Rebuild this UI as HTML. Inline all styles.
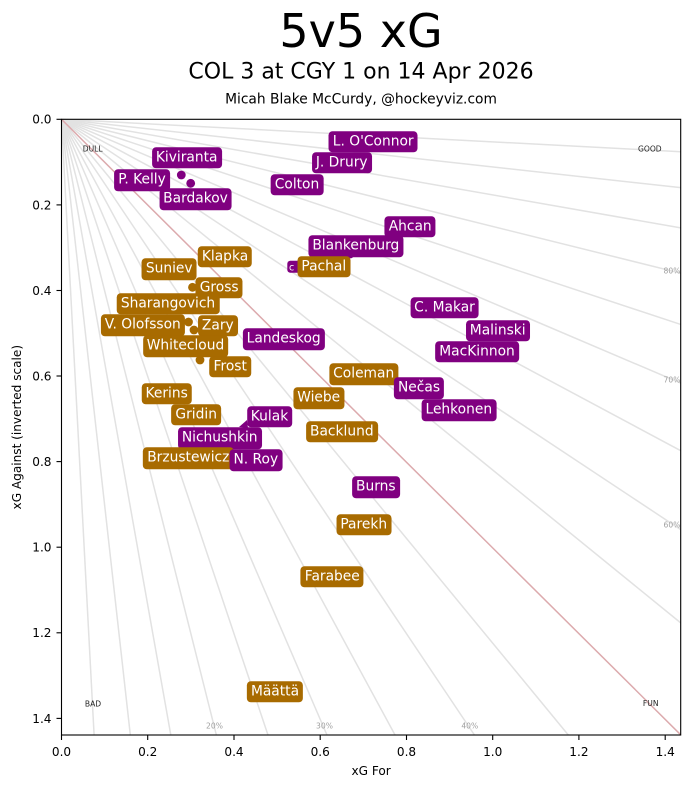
<!DOCTYPE html>
<html>
<head>
<meta charset="utf-8">
<style>
html,body{margin:0;padding:0;background:#fff;width:691px;height:788px;overflow:hidden;}
#fig{position:relative;width:691px;height:788px;overflow:hidden;background:#fff;font-family:"DejaVu Sans","Liberation Sans",sans-serif;}
svg{position:absolute;left:0;top:0;display:block;}
.lb{position:absolute;transform:translate(-50%,-50%);height:21.5px;line-height:21.5px;padding:0 4.1px;border-radius:4px;color:#fff;font-size:13.8px;white-space:nowrap;font-family:"DejaVu Sans","Liberation Sans",sans-serif;}
.P{background:#800080;}
.G{background:#a86b00;}
</style>
</head>
<body>
<div id="fig">
<svg width="691" height="788" viewBox="0 0 691 788" xmlns="http://www.w3.org/2000/svg" font-family="DejaVu Sans, Liberation Sans, sans-serif">
  <text x="361" y="47" font-size="46" text-anchor="middle" fill="#000">5v5 xG</text>
  <text x="361" y="78.3" font-size="22" text-anchor="middle" fill="#000">COL 3 at CGY 1 on 14 Apr 2026</text>
  <text x="361" y="103.3" font-size="13.8" text-anchor="middle" fill="#000">Micah Blake McCurdy, @hockeyviz.com</text>

  <g stroke="#e2e2e2" stroke-width="1.5" fill="none">
    <line x1="61.5" y1="119.3" x2="94.10" y2="735"/>
    <line x1="61.5" y1="119.3" x2="130.33" y2="735"/>
    <line x1="61.5" y1="119.3" x2="170.81" y2="735"/>
    <line x1="61.5" y1="119.3" x2="216.36" y2="735"/>
    <line x1="61.5" y1="119.3" x2="267.98" y2="735"/>
    <line x1="61.5" y1="119.3" x2="326.97" y2="735"/>
    <line x1="61.5" y1="119.3" x2="395.04" y2="735"/>
    <line x1="61.5" y1="119.3" x2="474.46" y2="735"/>
    <line x1="61.5" y1="119.3" x2="568.31" y2="735"/>
    <line x1="61.5" y1="119.3" x2="680.7" y2="622.86"/>
    <line x1="61.5" y1="119.3" x2="680.7" y2="529.61"/>
    <line x1="61.5" y1="119.3" x2="680.7" y2="450.71"/>
    <line x1="61.5" y1="119.3" x2="680.7" y2="383.07"/>
    <line x1="61.5" y1="119.3" x2="680.7" y2="324.46"/>
    <line x1="61.5" y1="119.3" x2="680.7" y2="273.17"/>
    <line x1="61.5" y1="119.3" x2="680.7" y2="227.91"/>
    <line x1="61.5" y1="119.3" x2="680.7" y2="187.68"/>
    <line x1="61.5" y1="119.3" x2="680.7" y2="151.69"/>
    <line x1="61.5" y1="119.3" x2="680.7" y2="734.8" stroke="#dcaaad"/>
  </g>

  <g font-size="7.6" fill="#222" text-anchor="middle">
    <text x="92.7" y="151.7">DULL</text>
    <text x="649.8" y="151.7">GOOD</text>
    <text x="93" y="706.7">BAD</text>
    <text x="650.7" y="706">FUN</text>
  </g>
  <g font-size="7.6" fill="#a0a0a0" text-anchor="middle">
    <text x="214.5" y="728.7">20%</text>
    <text x="324.5" y="728.7">30%</text>
    <text x="469.8" y="728.7">40%</text>
    <text x="672" y="527.7">60%</text>
    <text x="672" y="382.7">70%</text>
    <text x="672" y="273.5">80%</text>
  </g>

  <g>
    <circle cx="181.3" cy="175" r="4.4" fill="#800080"/>
    <circle cx="190.7" cy="183.3" r="4.4" fill="#800080"/>
    <circle cx="350" cy="254" r="4.4" fill="#800080"/>
    <circle cx="192.5" cy="287.3" r="4.4" fill="#a86b00"/>
    <circle cx="200" cy="360" r="4.4" fill="#a86b00"/>
    <circle cx="188.5" cy="322" r="4.4" fill="#a86b00"/>
    <circle cx="194" cy="330" r="4.4" fill="#a86b00"/>
    <polygon points="239,427 247,420 248,428" fill="#800080"/>
    <rect x="287.3" y="260.7" width="14" height="12" rx="3" fill="#800080"/>
    <text x="289" y="270.5" font-size="9.5" fill="#fff">c</text>
  </g>

  <rect x="61.5" y="119.3" width="619.2" height="615.7" fill="none" stroke="#000" stroke-width="1.1"/>

  <g stroke="#000" stroke-width="1.1">
    <line x1="61.5" y1="735" x2="61.5" y2="740"/>
    <line x1="147.7" y1="735" x2="147.7" y2="740"/>
    <line x1="234" y1="735" x2="234" y2="740"/>
    <line x1="320.2" y1="735" x2="320.2" y2="740"/>
    <line x1="406.5" y1="735" x2="406.5" y2="740"/>
    <line x1="492.7" y1="735" x2="492.7" y2="740"/>
    <line x1="578.9" y1="735" x2="578.9" y2="740"/>
    <line x1="665.2" y1="735" x2="665.2" y2="740"/>
  </g>
  <g font-size="12.1" fill="#000" text-anchor="middle">
    <text x="61.5" y="756">0.0</text>
    <text x="147.7" y="756">0.2</text>
    <text x="234" y="756">0.4</text>
    <text x="320.2" y="756">0.6</text>
    <text x="406.5" y="756">0.8</text>
    <text x="492.7" y="756">1.0</text>
    <text x="578.9" y="756">1.2</text>
    <text x="665.2" y="756">1.4</text>
  </g>
  <g stroke="#000" stroke-width="1.1">
    <line x1="56.5" y1="119.3" x2="61.5" y2="119.3"/>
    <line x1="56.5" y1="204.9" x2="61.5" y2="204.9"/>
    <line x1="56.5" y1="290.5" x2="61.5" y2="290.5"/>
    <line x1="56.5" y1="376" x2="61.5" y2="376"/>
    <line x1="56.5" y1="461.6" x2="61.5" y2="461.6"/>
    <line x1="56.5" y1="547.2" x2="61.5" y2="547.2"/>
    <line x1="56.5" y1="632.8" x2="61.5" y2="632.8"/>
    <line x1="56.5" y1="718.4" x2="61.5" y2="718.4"/>
  </g>
  <g font-size="12.1" fill="#000" text-anchor="end">
    <text x="51.5" y="123.7">0.0</text>
    <text x="51.5" y="209.3">0.2</text>
    <text x="51.5" y="294.9">0.4</text>
    <text x="51.5" y="380.4">0.6</text>
    <text x="51.5" y="466">0.8</text>
    <text x="51.5" y="551.6">1.0</text>
    <text x="51.5" y="637.2">1.2</text>
    <text x="51.5" y="722.8">1.4</text>
  </g>
  <text x="371.1" y="775" font-size="12.1" text-anchor="middle" fill="#000">xG For</text>
  <text transform="translate(20.8,427.2) rotate(-90)" font-size="12.1" text-anchor="middle" fill="#000">xG Against (inverted scale)</text>
</svg>

<div class="lb P" style="left:373.2px;top:141.7px;">L. O'Connor</div>
<div class="lb P" style="left:341.7px;top:162.8px;">J. Drury</div>
<div class="lb P" style="left:186.7px;top:157.5px;">Kiviranta</div>
<div class="lb P" style="left:142px;top:180px;">P. Kelly</div>
<div class="lb P" style="left:195.5px;top:199.2px;">Bardakov</div>
<div class="lb P" style="left:297px;top:184.8px;">Colton</div>
<div class="lb P" style="left:410.2px;top:226.8px;">Ahcan</div>
<div class="lb P" style="left:355.8px;top:246.3px;">Blankenburg</div>
<div class="lb G" style="left:323.8px;top:266.8px;">Pachal</div>
<div class="lb G" style="left:225px;top:256.5px;">Klapka</div>
<div class="lb G" style="left:169.2px;top:269.2px;">Suniev</div>
<div class="lb G" style="left:219.2px;top:287.5px;">Gross</div>
<div class="lb G" style="left:168px;top:303.7px;">Sharangovich</div>
<div class="lb G" style="left:142.8px;top:325px;">V. Olofsson</div>
<div class="lb G" style="left:217.8px;top:325.8px;">Zary</div>
<div class="lb G" style="left:185.5px;top:346.2px;">Whitecloud</div>
<div class="lb G" style="left:230.2px;top:366.5px;">Frost</div>
<div class="lb P" style="left:283.7px;top:339.2px;">Landeskog</div>
<div class="lb P" style="left:444.5px;top:307.5px;">C. Makar</div>
<div class="lb P" style="left:497.7px;top:330.8px;">Malinski</div>
<div class="lb P" style="left:477px;top:351.7px;">MacKinnon</div>
<div class="lb G" style="left:363.7px;top:374.2px;">Coleman</div>
<div class="lb P" style="left:419px;top:388.3px;">Nečas</div>
<div class="lb P" style="left:458.8px;top:410.2px;">Lehkonen</div>
<div class="lb G" style="left:318.7px;top:398.2px;">Wiebe</div>
<div class="lb G" style="left:341.8px;top:431.5px;">Backlund</div>
<div class="lb G" style="left:166.7px;top:393.8px;">Kerins</div>
<div class="lb G" style="left:196.2px;top:414.8px;">Gridin</div>
<div class="lb P" style="left:269.5px;top:416.5px;">Kulak</div>
<div class="lb P" style="left:219.7px;top:438px;">Nichushkin</div>
<div class="lb G" style="left:188.3px;top:458.3px;">Brzustewicz</div>
<div class="lb P" style="left:255.8px;top:460.2px;">N. Roy</div>
<div class="lb P" style="left:375.8px;top:487.2px;">Burns</div>
<div class="lb G" style="left:363.7px;top:524.5px;">Parekh</div>
<div class="lb G" style="left:332.3px;top:576.7px;">Farabee</div>
<div class="lb G" style="left:275px;top:691.7px;">Määttä</div>
</div>
</body>
</html>
